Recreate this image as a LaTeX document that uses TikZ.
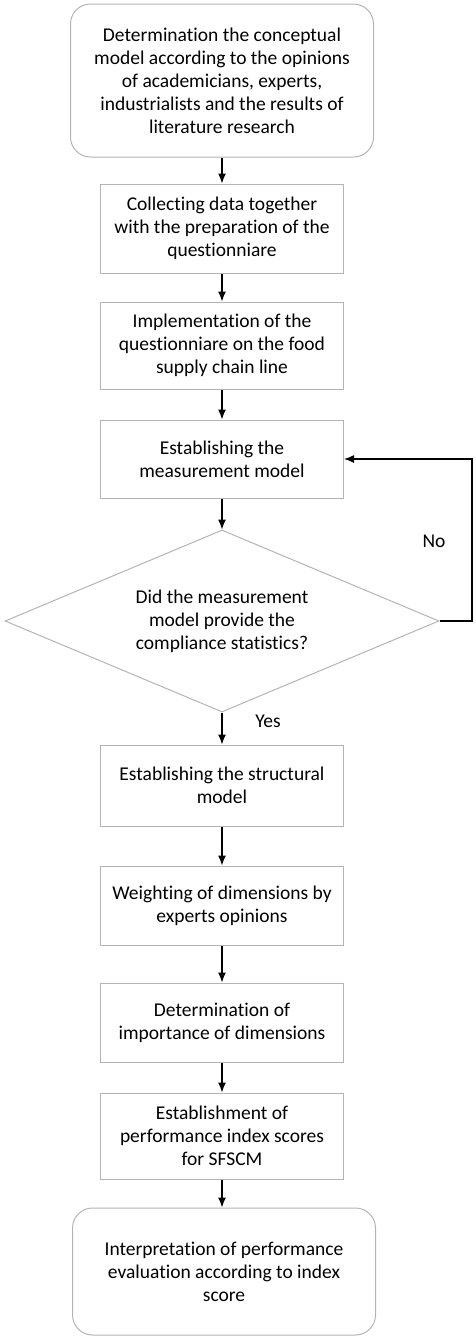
\documentclass[tikz,border=0pt]{standalone}
\usepackage{fontspec}
\setmainfont{Carlito}[Ligatures=NoCommon]
\usepackage{tikz}
\usetikzlibrary{shapes,arrows,positioning,calc,arrows.meta}
\definecolor{boxgray}{RGB}{180,180,180}

\begin{document}
\begin{tikzpicture}[x=1pt, y=-1pt,
        every node/.style={font=\fontsize{19.5}{23}\selectfont, text=black},
        procbox/.style={draw=boxgray, line width=1pt, rectangle, minimum width=243pt, align=center, inner sep=0pt},
        endbox/.style={draw=boxgray, line width=1pt, rectangle, rounded corners=20pt, minimum width=303pt, align=center, inner sep=0pt},
        decbox/.style={draw=boxgray, line width=1pt, diamond, aspect=2.4, minimum width=434pt, minimum height=182pt, align=center, inner sep=0pt},
        arr/.style={line width=1.3pt, -{Latex[length=10pt, width=8pt]}}]
        \useasboundingbox (0,0) rectangle (475,1339);

        % Start
        \node[endbox, minimum height=153pt] (start) at (222,80.5) {Determination the conceptual\\model according to the opinions\\of academicians, experts,\\industrialists and the results of\\literature research};

        % Steps
        \node[procbox, minimum height=89pt] (collect) at (222,228.5) {Collecting data together\\with the preparation of the\\questionniare};
        \node[procbox, minimum height=87pt] (impl) at (222,345.5) {Implementation of the\\questionniare on the food\\supply chain line};
        \node[procbox, minimum height=78pt] (meas) at (222,459) {Establishing the\\measurement model};

        % Decision
        \node[decbox] (dec) at (222,621) {Did the measurement\\model provide the\\compliance statistics?};

        \node[procbox, minimum height=81pt] (struct) at (222,785.5) {Establishing the structural\\model};
        \node[procbox, minimum height=79pt] (weight) at (222,905.5) {Weighting of dimensions by\\experts opinions};
        \node[procbox, minimum height=79pt] (import) at (222,1022.5) {Determination of\\importance of dimensions};
        \node[procbox, minimum height=86pt] (index) at (222,1136) {Establishment of\\performance index scores\\for SFSCM};

        % End
        \node[endbox, minimum height=127pt] (final) at (224,1271.5) {Interpretation of performance\\evaluation according to index\\score};

        \foreach \a/\b in {start/collect, collect/impl, impl/meas, meas/dec, dec/struct, struct/weight, weight/import, import/index, index/final} {
            \draw[arr] (\a.south) -- (\a.south |- \b.north);
        }

        % Loop back
        \coordinate (loop) at (472,459);
        \draw[arr] (dec.east) -| (loop) -- (meas.east);
        \node (no) at (434,541) {No};
        \node (yes) at (268,721) {Yes};
    \end{tikzpicture}
\end{document}
